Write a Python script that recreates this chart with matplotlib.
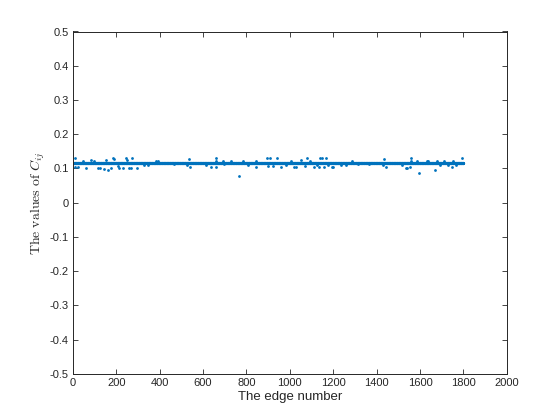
import numpy as np
import matplotlib
matplotlib.use("Agg")
import matplotlib.pyplot as plt

# number of edges and the level most C_ij values sit on
n_edges = 1800
base_value = 0.116

# edges whose C_ij value is off the main band (edge number, value)
outlier_edges = [11, 11, 25, 46, 61, 84, 99, 115, 126, 146, 154, 161, 175, 184, 191,
                 207, 215, 230, 246, 250, 258, 269, 272, 296, 330, 346, 384, 392, 465,
                 527, 537, 542,
                 616, 636, 659, 659, 659, 690, 696, 731, 766, 785, 808, 846, 846, 893,
                 900, 908, 923, 941, 961, 984, 1007, 1018, 1027, 1053, 1068, 1079, 1091,
                 1110, 1125, 1134, 1141, 1150, 1156, 1168, 1175, 1195,
                 1201, 1237, 1257, 1287, 1313, 1367, 1428, 1436, 1442, 1516, 1534, 1538,
                 1555, 1560, 1560, 1586, 1596, 1631, 1639, 1670, 1680, 1692, 1711, 1727,
                 1747, 1754, 1767, 1793]
outlier_values = [0.129, 0.105, 0.105, 0.122, 0.102, 0.125, 0.121, 0.102, 0.102, 0.097,
                  0.125, 0.096, 0.102, 0.129, 0.128, 0.107, 0.102, 0.102, 0.129, 0.126,
                  0.102, 0.102, 0.129, 0.102, 0.110, 0.110, 0.122, 0.122, 0.112, 0.110,
                  0.127, 0.104,
                  0.110, 0.103, 0.129, 0.123, 0.103, 0.122, 0.113, 0.122, 0.077, 0.121,
                  0.110, 0.122, 0.103, 0.129, 0.108, 0.129, 0.108, 0.129, 0.104, 0.110,
                  0.122, 0.103, 0.103, 0.125, 0.108, 0.129, 0.122, 0.103, 0.110, 0.103,
                  0.129, 0.129, 0.103, 0.129, 0.110, 0.103,
                  0.103, 0.110, 0.110, 0.121, 0.113, 0.113, 0.110, 0.127, 0.104, 0.110,
                  0.102, 0.102, 0.104, 0.129, 0.123, 0.122, 0.086, 0.122, 0.122, 0.096,
                  0.122, 0.110, 0.122, 0.110, 0.103, 0.121, 0.110, 0.129]

edges = np.arange(1, n_edges + 1)
values = np.full(n_edges, base_value)

plt.rcParams["font.family"] = ["Liberation Sans", "DejaVu Sans"]
plt.rcParams["mathtext.fontset"] = "cm"

dark = "#262626"
fig = plt.figure(figsize=(5.6, 4.2), dpi=100)
ax = fig.add_axes([0.13, 0.11, 0.775, 0.815])

ax.plot(edges, values, ".", color="#0072BD", markersize=4.5, markeredgewidth=0,
        linestyle="none")
ax.plot(outlier_edges, outlier_values, ".", color="#0072BD", markersize=4,
        markeredgewidth=0, linestyle="none")

ax.set_xlim(0, 2000)
ax.set_ylim(-0.5, 0.5)
ax.set_xticks(np.arange(0, 2001, 200))
ax.set_yticks(np.round(np.arange(-0.5, 0.51, 0.1), 1))
ax.set_yticklabels(["-0.5", "-0.4", "-0.3", "-0.2", "-0.1", "0",
                    "0.1", "0.2", "0.3", "0.4", "0.5"])

ax.tick_params(direction="in", top=True, right=True, length=3.5, width=0.6,
               labelsize=8, colors=dark, pad=3)
for sp in ax.spines.values():
    sp.set_color(dark)
    sp.set_linewidth(0.7)

ax.set_xlabel("The edge number", fontsize=9.5, color=dark, labelpad=2)
ax.set_ylabel(r"$\mathrm{The\ values\ of\ }C_{ij}$", fontsize=10, color=dark, labelpad=2)

fig.savefig("out.png", dpi=100)
